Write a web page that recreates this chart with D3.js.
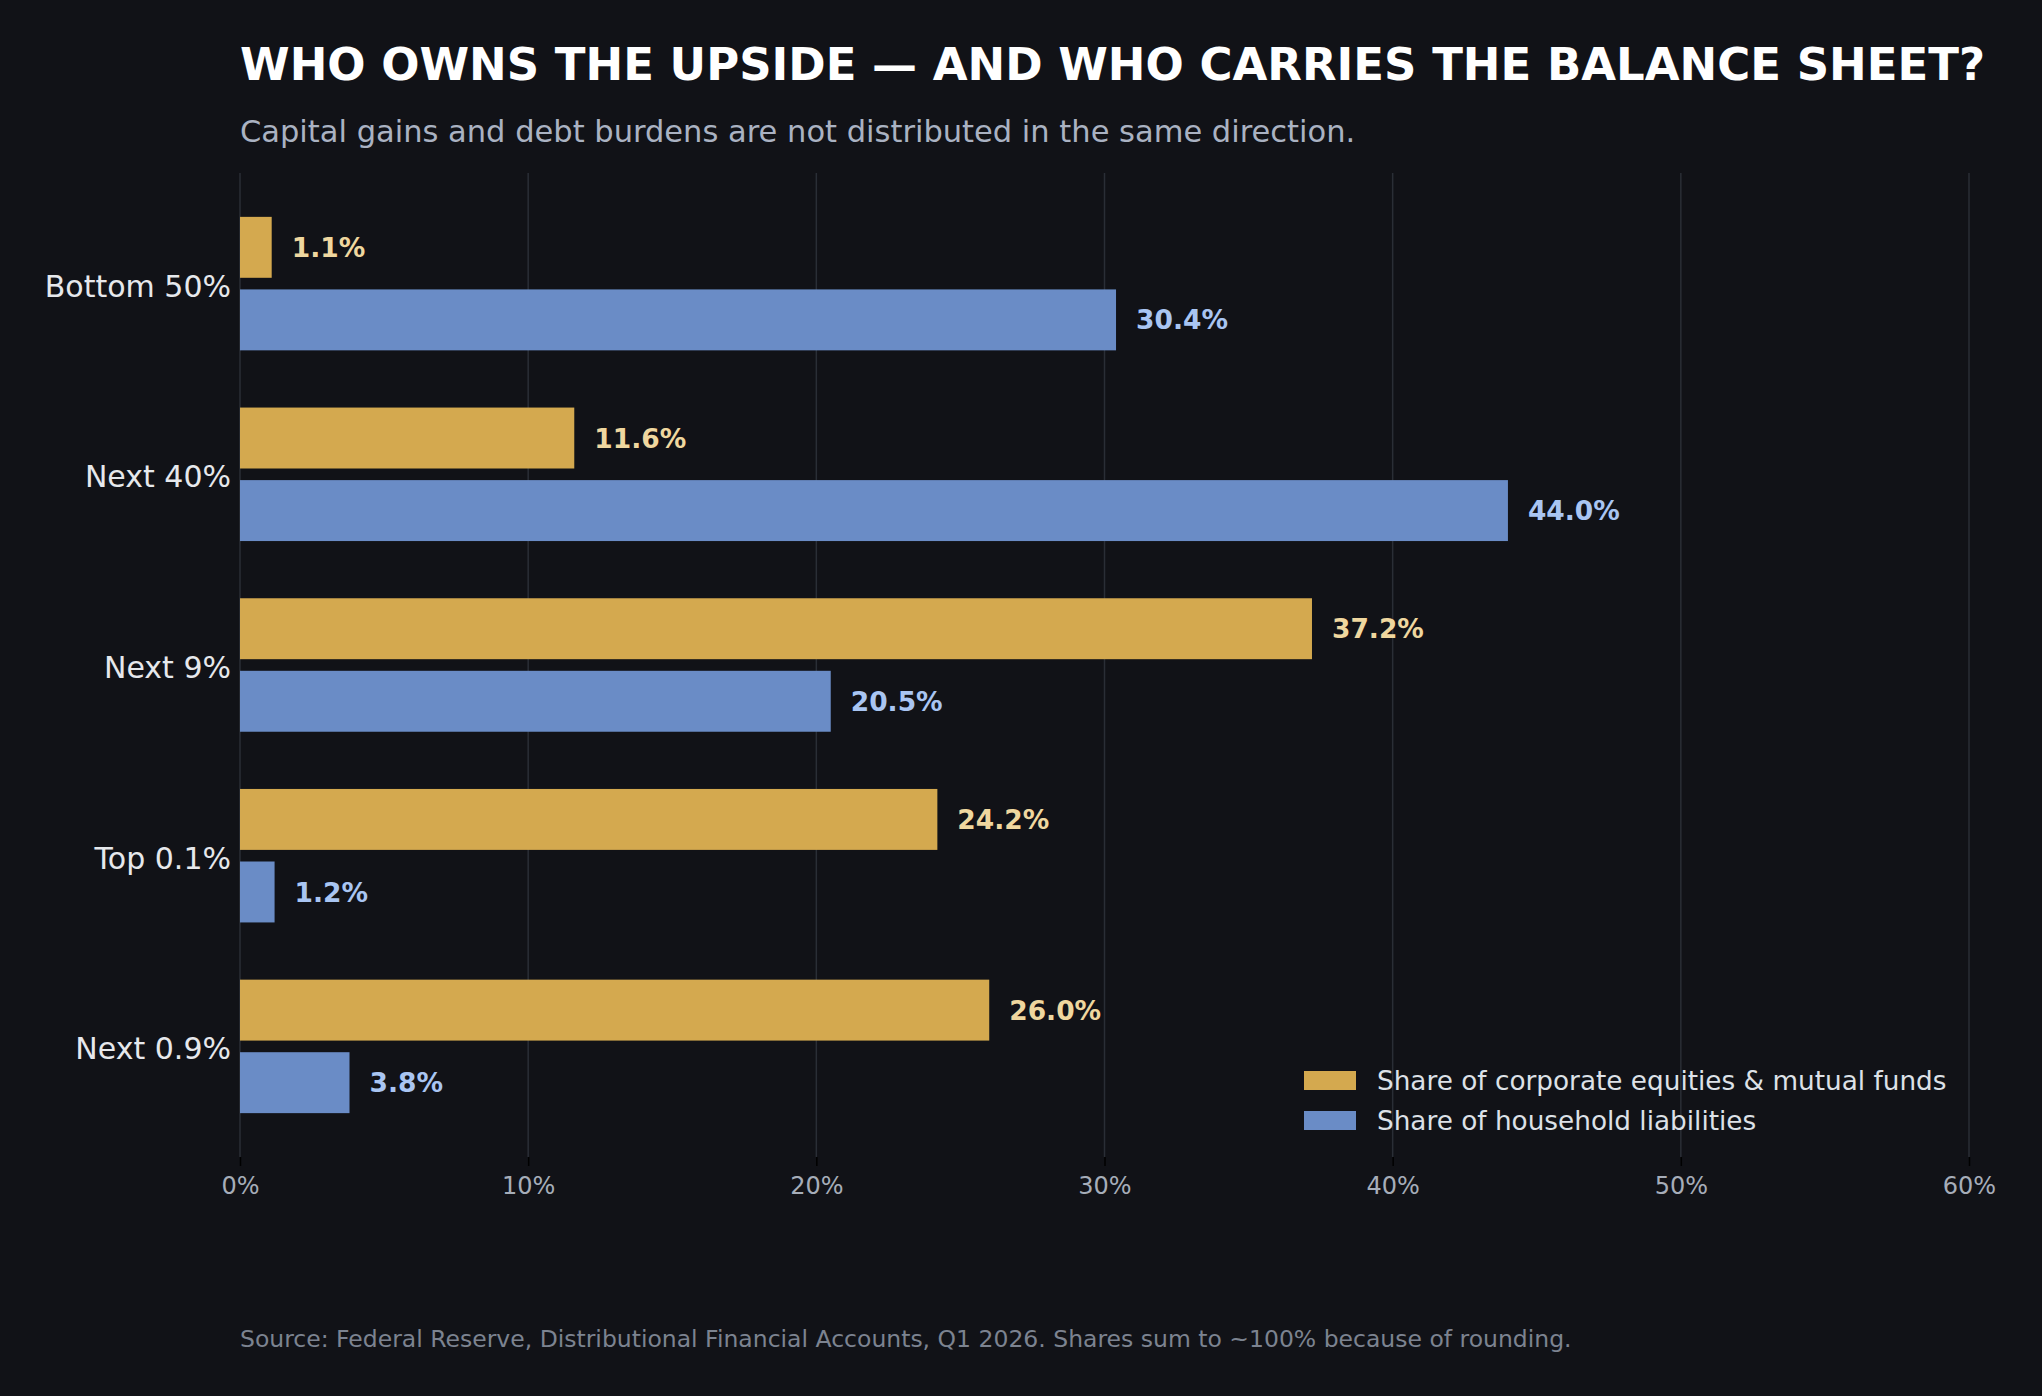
<!DOCTYPE html>
<html>
<head>
<meta charset="utf-8">
<script src="https://cdn.jsdelivr.net/npm/d3@7"></script>
<style>
  html, body { margin: 0; padding: 0; background: #111217; }
  svg { display: block; font-family: "DejaVu Sans", sans-serif; }
</style>
</head>
<body>
<div id="chart"></div>
<script>
// Data
const groups = ["Bottom 50%", "Next 40%", "Next 9%", "Top 0.1%", "Next 0.9%"];
const seriesNames = ["Share of corporate equities & mutual funds", "Share of household liabilities"];
const equities = [1.1, 11.6, 37.2, 24.2, 26.0];
const liabilities = [30.4, 44.0, 20.5, 1.2, 3.8];
const xTicks = [0, 10, 20, 30, 40, 50, 60];

const width = 2042, height = 1396;
const margin = { top: 173, right: 73, bottom: 239, left: 240 };

const colors = ["#d4a94f", "#6a8cc6"];
const labelColors = ["#efd79f", "#a9c5f2"];

const svg = d3.select("#chart")
  .append("svg")
  .attr("width", width)
  .attr("height", height);

svg.append("rect")
  .attr("width", width)
  .attr("height", height)
  .attr("fill", "#111217");

// Titles
svg.append("text")
  .attr("x", margin.left)
  .attr("y", 80)
  .attr("fill", "#ffffff")
  .attr("font-size", 45)
  .attr("font-weight", "bold")
  .text("WHO OWNS THE UPSIDE — AND WHO CARRIES THE BALANCE SHEET?");

svg.append("text")
  .attr("x", margin.left)
  .attr("y", 142)
  .attr("fill", "#aab2c2")
  .attr("font-size", 30.5)
  .text("Capital gains and debt burdens are not distributed in the same direction.");

// Scales
const x = d3.scaleLinear()
  .domain([0, 60])
  .range([margin.left, width - margin.right]);

const y = d3.scaleBand()
  .domain(groups)
  .range([margin.top, height - margin.bottom])
  .paddingInner(0.3)
  .paddingOuter(0.23);

const ySub = d3.scaleBand()
  .domain([0, 1])
  .range([0, y.bandwidth()])
  .paddingInner(0.16);

// Grid
svg.append("g")
  .selectAll("line")
  .data(xTicks)
  .join("line")
  .attr("x1", d => x(d))
  .attr("x2", d => x(d))
  .attr("y1", margin.top)
  .attr("y2", height - margin.bottom)
  .attr("stroke", "#2a2e36")
  .attr("stroke-width", 1.5);

// X axis
const xAxis = svg.append("g")
  .attr("transform", `translate(0, ${height - margin.bottom})`)
  .call(d3.axisBottom(x).tickValues(xTicks).tickFormat(d => d + "%").tickSize(9).tickPadding(11));

xAxis.select(".domain").remove();
xAxis.selectAll(".tick line").attr("stroke", "#000000").attr("stroke-width", 1.5);
xAxis.selectAll(".tick text")
  .attr("fill", "#a6adb9")
  .attr("font-size", 24)
  .attr("font-family", "DejaVu Sans, sans-serif");

// Y axis
const yAxis = svg.append("g")
  .attr("transform", `translate(${margin.left}, 0)`)
  .call(d3.axisLeft(y).tickSize(0).tickPadding(9));

yAxis.select(".domain").remove();
yAxis.selectAll(".tick text")
  .attr("fill", "#e6e8ec")
  .attr("font-size", 30)
  .attr("dy", "0.43em")
  .attr("font-family", "DejaVu Sans, sans-serif");

// Bars
const rows = groups.map((g, i) => ({ group: g, values: [equities[i], liabilities[i]] }));

const groupSel = svg.append("g")
  .selectAll("g")
  .data(rows)
  .join("g")
  .attr("transform", d => `translate(0, ${y(d.group)})`);

groupSel.selectAll("rect")
  .data(d => d.values.map((v, k) => ({ k, v })))
  .join("rect")
  .attr("x", x(0))
  .attr("y", d => ySub(d.k))
  .attr("width", d => x(d.v) - x(0))
  .attr("height", ySub.bandwidth())
  .attr("fill", d => colors[d.k]);

groupSel.selectAll("text")
  .data(d => d.values.map((v, k) => ({ k, v })))
  .join("text")
  .attr("x", d => x(d.v) + 20)
  .attr("y", d => ySub(d.k) + ySub.bandwidth() / 2)
  .attr("dy", "0.36em")
  .attr("fill", d => labelColors[d.k])
  .attr("font-size", 26.5)
  .attr("font-weight", "bold")
  .text(d => d3.format(".1f")(d.v) + "%");

// Legend
const legend = svg.append("g")
  .attr("transform", "translate(1304, 1071)");

const legendItem = legend.selectAll("g")
  .data(seriesNames)
  .join("g")
  .attr("transform", (d, i) => `translate(0, ${i * 40})`);

legendItem.append("rect")
  .attr("width", 52)
  .attr("height", 19)
  .attr("fill", (d, i) => colors[i]);

legendItem.append("text")
  .attr("x", 73)
  .attr("y", 10)
  .attr("dy", "0.36em")
  .attr("fill", "#dde1e7")
  .attr("font-size", 26.3)
  .text(d => d);

// Source note
svg.append("text")
  .attr("x", margin.left)
  .attr("y", 1347)
  .attr("fill", "#7c8390")
  .attr("font-size", 23.5)
  .text("Source: Federal Reserve, Distributional Financial Accounts, Q1 2026. Shares sum to ~100% because of rounding.");
</script>
</body>
</html>
